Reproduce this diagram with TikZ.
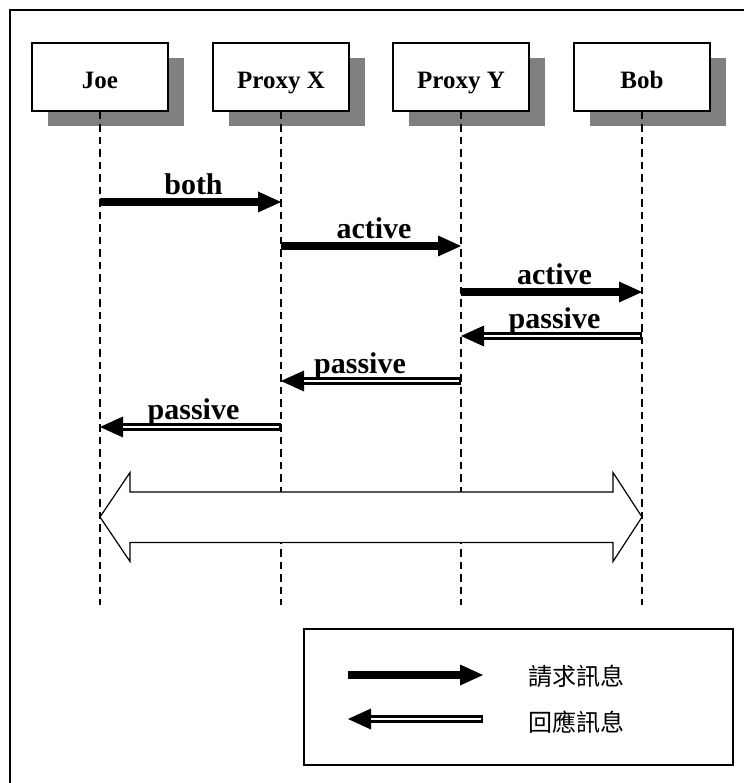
\documentclass[tikz,border=0pt]{standalone}
\usepackage{fontspec}
\setmainfont{Liberation Serif}
\newfontfamily\cjk{Noto Sans CJK TC}
\usetikzlibrary{arrows.meta,shadows}

\begin{document}
\begin{tikzpicture}[x=1pt,y=-1pt,
  actor/.style={draw, line width=1.2pt, fill=white, inner sep=0pt,
    minimum width=136pt, minimum height=68pt,
    text height=25pt, text depth=2.4pt,
    font=\fontsize{25}{30}\selectfont\bfseries,
    drop shadow={shadow xshift=16pt, shadow yshift=-15pt, fill=gray, opacity=1}},
  lifeline/.style={line width=1.4pt, dash pattern=on 7.5pt off 5pt},
  head/.style={-{Triangle[length=23pt,width=21pt,line width=0pt]}},
  req/.style={head, line width=8pt},
  resp/.style={head, line width=7.6pt,
    postaction={draw=white, line width=2.6pt, arrows=-,
      shorten >=23pt, shorten <=1.6pt}},
  msg/.style={anchor=base, yshift=7.5pt, xshift=3pt,
    font=\fontsize{30}{36}\selectfont\bfseries},
  legendtext/.style={font=\fontsize{24}{28}\selectfont\cjk}
]
\useasboundingbox (0,0) rectangle (743,783);

% outer frame
\draw[line width=1.5pt] (10,800) -- (10,10) -- (760,10);

% participants
\node[actor] (joe) at (100,77) {Joe};
\node[actor] (px)  at (281,77) {Proxy X};
\node[actor] (py)  at (461,77) {Proxy Y};
\node[actor] (bob) at (642,77) {Bob};

% lifeline ends
\coordinate (joeend) at (100,605);
\coordinate (pxend)  at (281,605);
\coordinate (pyend)  at (461,605);
\coordinate (bobend) at (642,605);

\draw[lifeline] (joe.south) -- (joeend);
\draw[lifeline] (px.south)  -- (pxend);
\draw[lifeline] (py.south)  -- (pyend);
\draw[lifeline] (bob.south) -- (bobend);

% message end points on the lifelines
\coordinate (m1a) at (100,202); \coordinate (m1b) at (281,202);
\coordinate (m2a) at (281,246); \coordinate (m2b) at (461,246);
\coordinate (m3a) at (461,292); \coordinate (m3b) at (642,292);
\coordinate (m4a) at (642,336); \coordinate (m4b) at (461,336);
\coordinate (m5a) at (461,381); \coordinate (m5b) at (281,381);
\coordinate (m6a) at (281,427); \coordinate (m6b) at (100,427);

\draw[req]  (m1a) -- node[msg] {both} (m1b);
\draw[req]  (m2a) -- node[msg] {active} (m2b);
\draw[req]  (m3a) -- node[msg] {active} (m3b);
\draw[resp] (m4a) -- node[msg] {passive} (m4b);
\draw[resp] (m5a) -- node[msg, xshift=-14pt] {passive} (m5b);
\draw[resp] (m6a) -- node[msg] {passive} (m6b);

% end-to-end session arrow
\coordinate (sl) at (100,517);
\coordinate (sr) at (642,517);
\draw[line width=1.2pt, fill=white, line join=miter]
  (sl) -- ++(30,-44.5) -- ++(0,19.5) -- (613,492) -- ++(0,-19.5)
  -- (sr) -- (613,561.5) -- ++(0,-19) -- (130,542.5) -- ++(0,19) -- cycle;

% legend
\node[draw, line width=1.5pt, minimum width=429pt, minimum height=136pt,
  inner sep=0pt] (legend) at (518.5,697) {};
\coordinate (l1a) at (348,675); \coordinate (l1b) at (483,675);
\coordinate (l2a) at (483,719); \coordinate (l2b) at (348,719);
\draw[req]  (l1a) -- (l1b);
\draw[resp] (l2a) -- (l2b);
\node[legendtext] (reqtxt)  at (576.5,676) {請求訊息};
\node[legendtext] (resptxt) at (576.5,722) {回應訊息};
\end{tikzpicture}
\end{document}
